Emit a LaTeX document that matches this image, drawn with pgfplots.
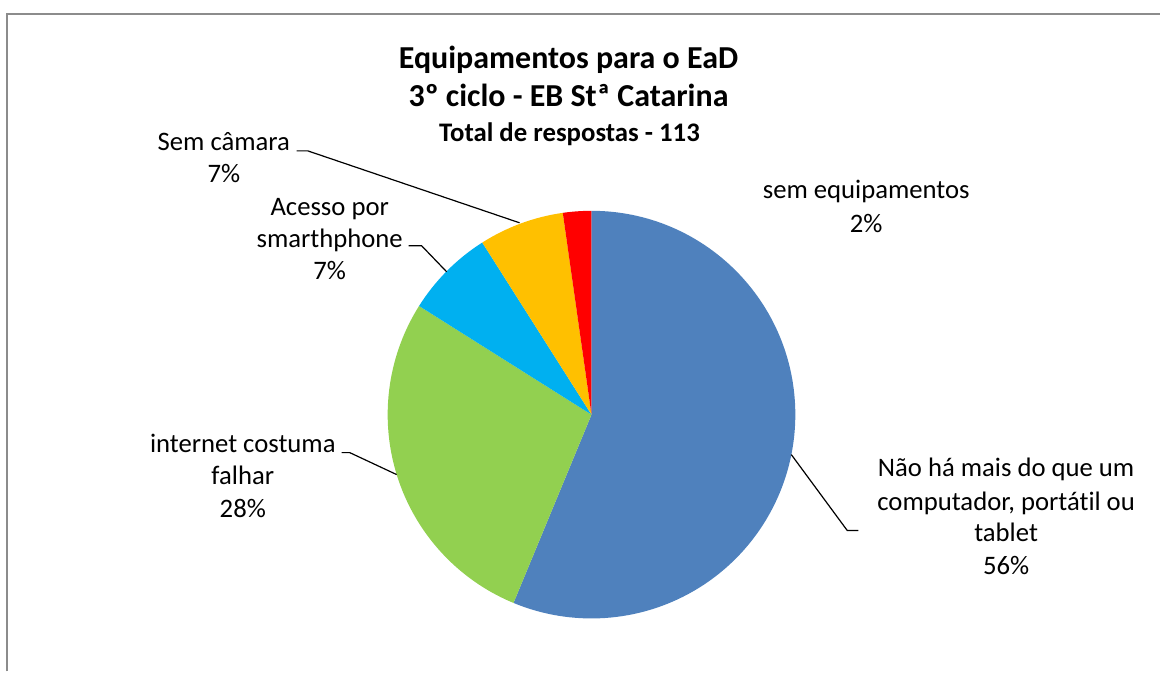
\documentclass[border=0pt]{standalone}
\usepackage{pgfplots}
\pgfplotsset{compat=1.18}
\usepackage{pgfplotstable}
\usepackage{fontspec}
\setmainfont{Carlito}[Ligatures=NoCommon]
\definecolor{pieblue}{HTML}{4F81BD}
\definecolor{piegreen}{HTML}{92D050}
\definecolor{pielblue}{HTML}{00B0F0}
\definecolor{pieorange}{HTML}{FFC000}
\definecolor{piered}{HTML}{FF0000}
\definecolor{framegray}{HTML}{8C8C8C}
\pgfplotstableread{
pct
56.25
27.70
7.05
6.75
2.25
}\piedata
\begin{document}
\begin{tikzpicture}
\pgfplotstablegetelem{0}{pct}\of\piedata \let\pA\pgfplotsretval
\pgfplotstablegetelem{1}{pct}\of\piedata \let\pB\pgfplotsretval
\pgfplotstablegetelem{2}{pct}\of\piedata \let\pC\pgfplotsretval
\pgfplotstablegetelem{3}{pct}\of\piedata \let\pD\pgfplotsretval
\pgfplotstablegetelem{4}{pct}\of\piedata \let\pE\pgfplotsretval
\pgfmathsetmacro\aA{90-3.6*\pA}
\pgfmathsetmacro\aB{\aA-3.6*\pB}
\pgfmathsetmacro\aC{\aB-3.6*\pC}
\pgfmathsetmacro\aD{\aC-3.6*\pD}
\pgfmathsetmacro\aE{\aD-3.6*\pE}
\begin{axis}[
  scale only axis, width=580.5pt, height=336pt,
  xmin=0, xmax=1161, ymin=0, ymax=672,
  hide axis, clip=false,
]
\path (axis cs:0,0) rectangle (axis cs:1161,672);
\draw[framegray, line width=1pt] (axis cs:7,0) -- (axis cs:7,658) -- (axis cs:1161,658);
% pie slices
\fill[pieblue]   (axis cs:592,257) -- ++(90:102pt)  arc[start angle=90,  end angle=\aA, radius=102pt] -- cycle;
\fill[piegreen]  (axis cs:592,257) -- ++(\aA:102pt) arc[start angle=\aA, end angle=\aB, radius=102pt] -- cycle;
\fill[pielblue]  (axis cs:592,257) -- ++(\aB:102pt) arc[start angle=\aB, end angle=\aC, radius=102pt] -- cycle;
\fill[pieorange] (axis cs:592,257) -- ++(\aC:102pt) arc[start angle=\aC, end angle=\aD, radius=102pt] -- cycle;
\fill[piered]    (axis cs:592,257) -- ++(\aD:102pt) arc[start angle=\aD, end angle=\aE, radius=102pt] -- cycle;
% title
\node[anchor=base, font=\fontsize{16}{19}\selectfont\bfseries] at (axis cs:569,603) {Equipamentos para o EaD};
\node[anchor=base, font=\fontsize{16}{19}\selectfont\bfseries] at (axis cs:569,565) {3º ciclo - EB Stª Catarina};
\node[anchor=base, font=\fontsize{13.4}{16}\selectfont\bfseries] at (axis cs:570,530) {Total de respostas - 113};
% labels
\tikzset{lbl/.style={anchor=base, font=\fontsize{13.35}{16}\selectfont}}
\node[lbl] at (axis cs:224,521) {Sem câmara};
\node[lbl] at (axis cs:224,489) {7\%};
\node[lbl] at (axis cs:330,456) {Acesso por};
\node[lbl] at (axis cs:330,424) {smarthphone};
\node[lbl] at (axis cs:330,392) {7\%};
\node[lbl] at (axis cs:867,473) {sem equipamentos};
\node[lbl] at (axis cs:867,439) {2\%};
\node[lbl] at (axis cs:243,219) {internet costuma};
\node[lbl] at (axis cs:243,187) {falhar};
\node[lbl] at (axis cs:243,154) {28\%};
\node[lbl] at (axis cs:1007,195) {Não há mais do que um};
\node[lbl] at (axis cs:1007,161) {computador, portátil ou};
\node[lbl] at (axis cs:1007,130) {tablet};
\node[lbl] at (axis cs:1007,97) {56\%};
% leader lines
\draw[black, line width=0.6pt] (axis cs:297,521) -- (axis cs:308,521) -- (axis cs:520,449);
\draw[black, line width=0.6pt] (axis cs:409,426) -- (axis cs:422,426) -- (axis cs:447,400);
\draw[black, line width=0.6pt] (axis cs:342,219) -- (axis cs:350,219) -- (axis cs:397,197);
\draw[black, line width=0.6pt] (axis cs:792,217) -- (axis cs:848,141) -- (axis cs:859,141);
\end{axis}
\end{tikzpicture}
\end{document}
